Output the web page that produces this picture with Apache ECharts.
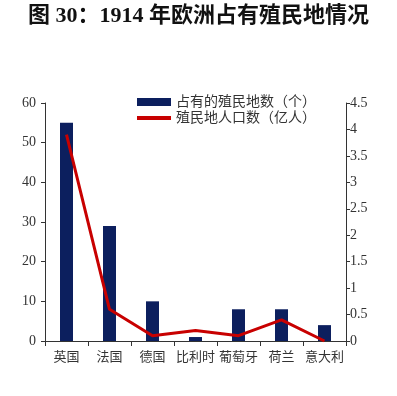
<!DOCTYPE html>
<html>
<head>
<meta charset="utf-8">
<script src="https://cdn.jsdelivr.net/npm/echarts@6/dist/echarts.min.js"></script>
<style>
  html, body { margin: 0; padding: 0; background: #fff; }
  #chart { width: 397px; height: 396px; }
</style>
</head>
<body>
<div id="chart"></div>
<script>
const countries = ['英国', '法国', '德国', '比利时', '葡萄牙', '荷兰', '意大利'];
const colonyCount = [55, 29, 10, 1, 8, 8, 4];
const colonyPopulation = [3.9, 0.6, 0.1, 0.2, 0.1, 0.4, 0];

const serif = '"Liberation Serif", "Noto Sans CJK SC", serif';
const axisColor = '#333';
const legendText = { fontFamily: serif, fontSize: 14, color: '#333' };

const chart = echarts.init(document.getElementById('chart'));
chart.setOption({
  animation: false,
  title: {
    text: '图 30：1914 年欧洲占有殖民地情况',
    left: 'center',
    top: 0,
    textStyle: { fontFamily: serif, fontSize: 22, fontWeight: 'bold', color: '#111' },
  },
  // two legends so each icon can have its own height
  legend: [
    {
      left: 137,
      top: 95,
      padding: 0,
      itemWidth: 34,
      itemHeight: 8,
      icon: 'rect',
      textStyle: legendText,
      data: ['占有的殖民地数（个）'],
    },
    {
      left: 137,
      top: 111,
      padding: 0,
      itemWidth: 34,
      itemHeight: 4,
      icon: 'rect',
      textStyle: legendText,
      data: ['殖民地人口数（亿人）'],
    },
  ],
  grid: { left: 45, right: 51, top: 103, bottom: 55 },
  xAxis: {
    type: 'category',
    data: countries,
    axisLine: { lineStyle: { color: axisColor, width: 1 } },
    axisTick: { show: true, length: 5, lineStyle: { color: axisColor } },
    axisLabel: { interval: 0, fontFamily: serif, fontSize: 13, color: '#333', margin: 10 },
  },
  yAxis: [
    {
      type: 'value',
      min: 0,
      max: 60,
      interval: 10,
      axisLine: { show: true, lineStyle: { color: axisColor } },
      axisTick: { show: true, length: 4, lineStyle: { color: axisColor } },
      axisLabel: { fontFamily: serif, fontSize: 14, color: '#333', margin: 9 },
      splitLine: { show: false },
    },
    {
      type: 'value',
      min: 0,
      max: 4.5,
      interval: 0.5,
      axisLine: { show: true, lineStyle: { color: axisColor } },
      axisTick: { show: true, length: 4, lineStyle: { color: axisColor } },
      axisLabel: { fontFamily: serif, fontSize: 14, color: '#333', margin: 4 },
      splitLine: { show: false },
    },
  ],
  series: [
    {
      name: '占有的殖民地数（个）',
      type: 'bar',
      data: colonyCount,
      barWidth: 13,
      itemStyle: { color: '#0c1f5e' },
    },
    {
      name: '殖民地人口数（亿人）',
      type: 'line',
      yAxisIndex: 1,
      data: colonyPopulation,
      symbol: 'none',
      lineStyle: { color: '#c80000', width: 3 },
      itemStyle: { color: '#c80000' },
    },
  ],
});
</script>
</body>
</html>
